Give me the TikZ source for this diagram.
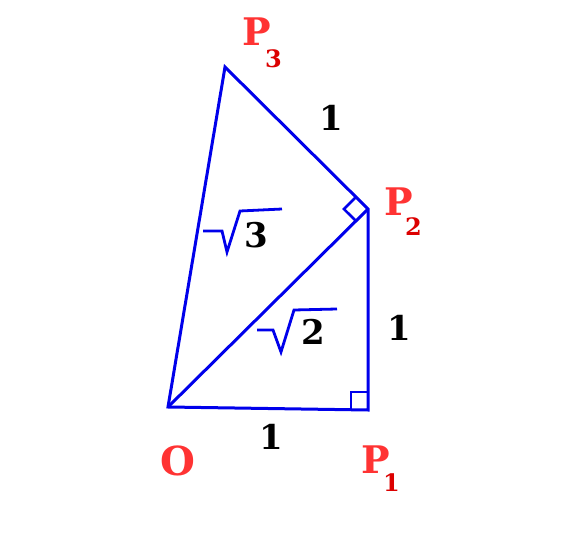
\documentclass[tikz,border=0pt]{standalone}
\usepackage{fontspec}
\setmainfont{DejaVu Serif}
\usetikzlibrary{calc}
\definecolor{lineblue}{RGB}{0,0,235}
\definecolor{pred}{RGB}{255,51,51}
\definecolor{subred}{RGB}{220,0,0}
\begin{document}
\begin{tikzpicture}[x=1pt,y=-1pt,
  seg/.style={draw=lineblue,line width=3pt,line join=miter},
  rightmark/.style={draw=lineblue,line width=2.6pt},
  rootsign/.style={draw=lineblue,line width=2.8pt,line join=miter},
  num/.style={inner sep=0pt,font=\bfseries\fontsize{34}{34}\selectfont,text=black},
  ptlabel/.style={inner sep=0pt,anchor=base west,font=\bfseries\fontsize{38}{38}\selectfont,text=pred},
  sublabel/.style={inner sep=0pt,anchor=base west,font=\bfseries\fontsize{24}{24}\selectfont,text=subred}]
\useasboundingbox (0,0) rectangle (564,534);
\coordinate (O) at (168,407);
\coordinate (P1) at (368,410);
\coordinate (P2) at (368,209);
\coordinate (P3) at (225,67);
% triangles
\draw[seg] (O) -- (P1) -- (P2) -- (P3) -- cycle;
\draw[seg] (O) -- (P2);
% right angle marks
\draw[rightmark] (351,410) -- (351,392) -- (368,392);
\draw[rightmark] ($(P2)!17pt!(P3)$) -- ($(P2)!17pt!(P3)!17pt!90:(P3)$) -- ($(P2)!17pt!(O)$);
% square root signs
\draw[rootsign] (203,231) -- (222,231) -- (227,252) -- (240,211) -- (282,209);
\draw[rootsign] (257,330) -- (273,330) -- (281,352) -- (294,310) -- (337,309);
% numbers
\node[num] (n3) at (256,235) {3};
\node[num] (n2) at (313,332) {2};
\node[num] (l1) at (331,118) {1};
\node[num] (l2) at (399,328) {1};
\node[num] (l3) at (271,437) {1};
% point labels
\node[inner sep=0pt,font=\bfseries\fontsize{40}{40}\selectfont,text=pred] (lO) at (178,461) {O};
\node[ptlabel] (lP3) at (242,46) {P};
\node[sublabel] (sP3) at (265,68) {3};
\node[ptlabel] (lP2) at (384,216) {P};
\node[sublabel] (sP2) at (405,236) {2};
\node[ptlabel] (lP1) at (361,473) {P};
\node[sublabel] (sP1) at (383,491) {1};
\end{tikzpicture}
\end{document}
